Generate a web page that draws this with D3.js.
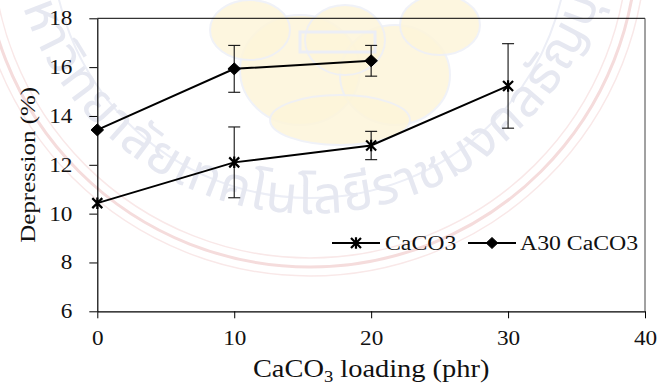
<!DOCTYPE html>
<html>
<head>
<meta charset="utf-8">
<script src="https://cdn.jsdelivr.net/npm/d3@7"></script>
<style>
  html, body { margin: 0; padding: 0; background: #fff; }
  svg { display: block; }
  .serif { font-family: "Liberation Serif", "Tinos", "Times New Roman", "DejaVu Serif", serif; fill: #111; }
</style>
</head>
<body>
<svg id="chart" width="660" height="385"></svg>
<script>
// Filler loading (phr) and measured depression (%) with error half-widths
const loadingCaCO3 = [0, 10, 20, 30];
const depressionCaCO3 = [10.43, 12.1, 12.79, 15.23];
const errorCaCO3 = [0, 1.45, 0.58, 1.73];

const loadingA30 = [0, 10, 20];
const depressionA30 = [13.43, 15.93, 16.26];
const errorA30 = [0, 0.96, 0.63];

const xTicks = [0, 10, 20, 30, 40];
const yTicks = [6, 8, 10, 12, 14, 16, 18];
const seriesNames = ["CaCO3", "A30 CaCO3"];
const sealText = "มหาวิทยาลัยเทคโนโลยีราชมงคลธัญบุรี";

const plotLeft = 97.3, plotRight = 645, plotTop = 18.3, plotBottom = 311.3;
const stretch = 1.16;
const serifFont = "'Liberation Serif', 'Tinos', 'Times New Roman', 'DejaVu Serif', serif";

const svg = d3.select("#chart");

// Faint seal printed behind the plot
const seal = svg.append("g").attr("class", "seal");
const cx = 310, cy = -60;
[318, 327, 336].forEach((r, i) => {
  seal.append("circle").attr("cx", cx).attr("cy", cy).attr("r", r)
    .attr("fill", "none").attr("stroke", i === 1 ? "#f5dcdc" : "#f9e8e8")
    .attr("stroke-width", i === 1 ? 3 : 1.5);
});
seal.append("circle").attr("cx", cx).attr("cy", cy).attr("r", 258)
  .attr("fill", "none").attr("stroke", "#eceef6").attr("stroke-width", 2);
// Emblem blobs
const blobs = [
  [300, 70, 60, 55], [395, 75, 55, 50], [345, 40, 40, 35], [250, 30, 40, 30],
  [440, 25, 40, 30], [340, 120, 70, 25]
];
blobs.forEach(b => {
  seal.append("ellipse").attr("cx", b[0]).attr("cy", b[1]).attr("rx", b[2]).attr("ry", b[3])
    .attr("fill", "#fdf5da").attr("stroke", "#eef0f7").attr("stroke-width", 2).attr("opacity", 0.85);
});
seal.append("rect").attr("x", 300).attr("y", 32).attr("width", 75).attr("height", 20)
  .attr("fill", "none").attr("stroke", "#eceef6").attr("stroke-width", 3);
// Ring lettering
const rText = 288;
const a0 = -0.05;
seal.append("path").attr("id", "sealArc")
  .attr("d", `M ${cx - rText * Math.cos(a0)} ${cy + rText * Math.sin(a0)} A ${rText} ${rText} 0 0 0 ${cx + rText * Math.cos(a0)} ${cy + rText * Math.sin(a0)}`)
  .attr("fill", "none");
seal.append("text")
  .style("font-family", "'Noto Sans Thai', 'Noto Sans', sans-serif")
  .style("font-size", "52px").style("fill", "#e6e8f1")
  .append("textPath").attr("href", "#sealArc").attr("startOffset", "50%")
  .attr("text-anchor", "middle").attr("dominant-baseline", "middle")
  .text(sealText);

// Scales
const x = d3.scaleLinear().domain([0, 40]).range([plotLeft, plotRight]);
const y = d3.scaleLinear().domain([6, 18]).range([plotBottom, plotTop]);

// Frame: top and right edges
svg.append("line").attr("x1", x(0)).attr("x2", x(40)).attr("y1", y(18)).attr("y2", y(18))
  .attr("stroke", "#000").attr("stroke-width", 1);
svg.append("line").attr("x1", x(40)).attr("x2", x(40)).attr("y1", y(18)).attr("y2", y(6))
  .attr("stroke", "#444").attr("stroke-width", 1);

// Axes
const gx = svg.append("g").attr("transform", `translate(0,${y(6)})`)
  .call(d3.axisBottom(x).tickValues(xTicks).tickSize(7).tickSizeOuter(0).tickPadding(12.5).tickFormat(d3.format("d")));
const gy = svg.append("g").attr("transform", `translate(${x(0)},0)`)
  .call(d3.axisLeft(y).tickValues(yTicks).tickSize(8).tickSizeOuter(0).tickPadding(13.5).tickFormat(d3.format("d")));
[gx, gy].forEach(g => {
  g.attr("font-family", null).attr("font-size", null);
  g.select(".domain").attr("stroke", "#000").attr("stroke-width", 1.2);
  g.selectAll(".tick line").attr("stroke", "#000").attr("stroke-width", 1);
  g.selectAll(".tick text")
    .attr("class", "serif")
    .style("font-family", serifFont)
    .style("font-size", "20px").attr("fill", "#111")
    .attr("transform", `scale(${stretch},1)`);
});

// Axis titles
const xt = svg.append("text").attr("class", "serif").style("font-family", serifFont)
  .attr("transform", `translate(${(plotLeft + plotRight) / 2},376.5) scale(${stretch},1)`)
  .attr("text-anchor", "middle").style("font-size", "24.5px");
xt.append("tspan").text("CaCO");
xt.append("tspan").attr("dy", 5).style("font-size", "16px").text("3");
xt.append("tspan").attr("dy", -5).text(" loading (phr)");

svg.append("text").attr("class", "serif").style("font-family", serifFont)
  .attr("transform", `translate(35,${(plotTop + plotBottom) / 2}) scale(1,${stretch}) rotate(-90)`)
  .attr("text-anchor", "middle").style("font-size", "21.5px")
  .text("Depression (%)");

// Markers
function starPath(s) {
  const a = s / 2;
  return `M${-a},${-a}L${a},${a}M${-a},${a}L${a},${-a}M0,${-a * 1.15}L0,${a * 1.15}`;
}
function diamondPath(s) {
  const a = s / 2;
  return `M0,${-a}L${a * 1.05},0L0,${a}L${-a * 1.05},0Z`;
}

function drawSeries(xs, ys, es, marker) {
  const pts = xs.map((d, i) => ({ x: d, y: ys[i], e: es[i] }));
  const g = svg.append("g");
  // error bars
  pts.filter(p => p.e > 0).forEach(p => {
    const eb = g.append("g").attr("stroke", "#111").attr("stroke-width", 1.1);
    eb.append("line").attr("x1", x(p.x)).attr("x2", x(p.x)).attr("y1", y(p.y - p.e)).attr("y2", y(p.y + p.e));
    [p.y - p.e, p.y + p.e].forEach(v => {
      eb.append("line").attr("x1", x(p.x) - 6).attr("x2", x(p.x) + 6).attr("y1", y(v)).attr("y2", y(v));
    });
  });
  g.append("path").datum(pts)
    .attr("d", d3.line().x(p => x(p.x)).y(p => y(p.y)))
    .attr("fill", "none").attr("stroke", "#000").attr("stroke-width", 2);
  g.selectAll("path.m").data(pts).join("path").attr("class", "m")
    .attr("transform", p => `translate(${x(p.x)},${y(p.y)})`)
    .attr("d", marker === "star" ? starPath(10) : diamondPath(12))
    .attr("fill", marker === "star" ? "none" : "#000")
    .attr("stroke", "#000").attr("stroke-width", marker === "star" ? 2.2 : 1);
}

drawSeries(loadingCaCO3, depressionCaCO3, errorCaCO3, "star");
drawSeries(loadingA30, depressionA30, errorA30, "diamond");

// Legend
const legend = svg.append("g");
const items = [
  { name: seriesNames[0], marker: "star", x0: 332, x1: 380, tx: 385 },
  { name: seriesNames[1], marker: "diamond", x0: 468, x1: 516, tx: 520 }
];
const ly = 243;
items.forEach(it => {
  legend.append("line").attr("x1", it.x0).attr("x2", it.x1).attr("y1", ly).attr("y2", ly)
    .attr("stroke", "#000").attr("stroke-width", 2);
  legend.append("path").attr("transform", `translate(${(it.x0 + it.x1) / 2},${ly})`)
    .attr("d", it.marker === "star" ? starPath(10) : diamondPath(11))
    .attr("fill", it.marker === "star" ? "none" : "#000")
    .attr("stroke", "#000").attr("stroke-width", it.marker === "star" ? 2.2 : 1);
  legend.append("text").attr("class", "serif").style("font-family", serifFont)
    .attr("transform", `translate(${it.tx},249.5) scale(${stretch},1)`)
    .style("font-size", "20.5px").text(it.name);
});
</script>
</body>
</html>
